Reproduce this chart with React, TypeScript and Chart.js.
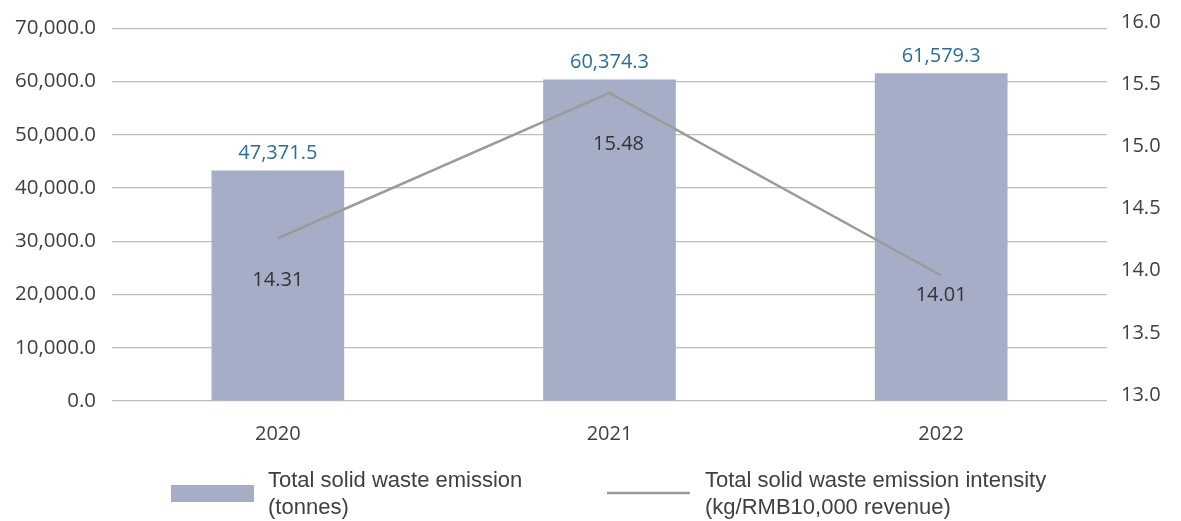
import React, { useEffect, useRef } from "react";
import { Chart, registerables } from "chart.js";

Chart.register(...registerables);

const categories = ["2020", "2021", "2022"];
// bar heights as drawn in the picture (tonnes)
const wasteTonnes = [43300, 60374.3, 61579.3];
// bar value labels as printed
const wasteLabels = ["47,371.5", "60,374.3", "61,579.3"];
// line values (kg/RMB10,000 revenue)
const intensity = [14.31, 15.48, 14.01];
const intensityLabels = ["14.31", "15.48", "14.01"];

const legendBar = ["Total solid waste emission", "(tonnes)"];
const legendLine = ["Total solid waste emission intensity", "(kg/RMB10,000 revenue)"];

const BAR_COLOR = "#A6AEC7";
const LINE_COLOR = "#9B9B9B";
const BLUE = "#2B6C98";
const TEXT = "#404040";
const TICK_FONT = "'Open Sans', 'Noto Sans', sans-serif";
const LEGEND_FONT = "'Liberation Sans', Arial, sans-serif";

const labelsPlugin = {
  id: "customLabels",
  afterDatasetsDraw(chart: any, _args: any, opts: any) {
    const ctx = chart.ctx;
    ctx.save();
    ctx.font = `20px ${TICK_FONT}`;
    ctx.textAlign = "center";
    ctx.textBaseline = "middle";
    const barMeta = chart.getDatasetMeta(1);
    barMeta.data.forEach((el: any, i: number) => {
      ctx.fillStyle = BLUE;
      ctx.fillText(wasteLabels[i], el.x, el.y - 17);
    });
    const lineMeta = chart.getDatasetMeta(0);
    const offs = opts.lineOffsets || [];
    lineMeta.data.forEach((el: any, i: number) => {
      const o = offs[i] || [0, 40];
      ctx.fillStyle = "#333333";
      ctx.fillText(intensityLabels[i], el.x + o[0], el.y + o[1]);
    });
    ctx.restore();
  },
  afterDraw(chart: any) {
    const ctx = chart.ctx;
    const ca = chart.chartArea;
    ctx.save();
    const baseY = ca.bottom + 92;
    // bar legend
    ctx.fillStyle = BAR_COLOR;
    ctx.fillRect(171, baseY - 8, 83, 17);
    ctx.font = `22px ${LEGEND_FONT}`;
    ctx.fillStyle = TEXT;
    ctx.textAlign = "left";
    ctx.textBaseline = "middle";
    ctx.fillText(legendBar[0], 268, baseY - 12);
    ctx.fillText(legendBar[1], 268, baseY + 15);
    // line legend
    ctx.strokeStyle = LINE_COLOR;
    ctx.lineWidth = 2.5;
    ctx.beginPath();
    ctx.moveTo(607, baseY);
    ctx.lineTo(690, baseY);
    ctx.stroke();
    ctx.fillText(legendLine[0], 705, baseY - 12);
    ctx.fillText(legendLine[1], 705, baseY + 15);
    ctx.restore();
  },
};

export default function App() {
  const ref = useRef<HTMLCanvasElement | null>(null);
  useEffect(() => {
    if (!ref.current) return;
    const chart = new Chart(ref.current, {
      type: "bar",
      data: {
        labels: categories,
        datasets: [
          {
            type: "line",
            label: legendLine.join(" "),
            data: intensity,
            yAxisID: "y2",
            borderColor: LINE_COLOR,
            borderWidth: 2.5,
            pointRadius: 0,
            tension: 0,
            order: 0,
          },
          {
            type: "bar",
            label: legendBar.join(" "),
            data: wasteTonnes,
            yAxisID: "y",
            backgroundColor: BAR_COLOR,
            barPercentage: 0.4,
            categoryPercentage: 1,
            order: 1,
          },
        ],
      },
      plugins: [labelsPlugin],
      options: {
        animation: false,
        responsive: true,
        maintainAspectRatio: false,
        layout: { padding: { top: 28, left: 0, right: 0, bottom: 0 } },
        plugins: {
          legend: { display: false },
          tooltip: { enabled: false },
          customLabels: { lineOffsets: [[0, 42], [9, 51], [0, 20]] },
        } as any,
        scales: {
          x: {
            grid: { display: false, drawTicks: false },
            border: { display: false },
            ticks: { color: TEXT, font: { family: TICK_FONT, size: 20 }, padding: 21 },
            afterFit: (s: any) => {
              s.height = 120;
            },
          },
          y: {
            position: "left",
            min: 0,
            max: 70000,
            grid: { color: "#BDBDBD", lineWidth: 1.2, drawTicks: false },
            border: { display: false },
            ticks: {
              stepSize: 10000,
              color: TEXT,
              padding: 16,
              font: { family: TICK_FONT, size: 20.5 },
              callback: (v: any) =>
                Number(v).toLocaleString("en-US", { minimumFractionDigits: 1, maximumFractionDigits: 1 }),
            },
            afterFit: (s: any) => {
              s.width = 112;
            },
          },
          y2: {
            position: "right",
            min: 13,
            max: 16,
            grid: { display: false, drawTicks: false },
            border: { display: false },
            ticks: {
              stepSize: 0.5,
              color: TEXT,
              padding: 14,
              labelOffset: -6,
              font: { family: TICK_FONT, size: 20 },
              callback: (v: any) => Number(v).toFixed(1),
            },
            afterFit: (s: any) => {
              s.width = 74;
            },
          },
        },
      },
    });
    return () => chart.destroy();
  }, []);
  return (
    <div style={{ position: "fixed", left: 0, top: 0, width: 1181, height: 521, background: "#fff" }}>
      <canvas ref={ref} />
    </div>
  );
}
